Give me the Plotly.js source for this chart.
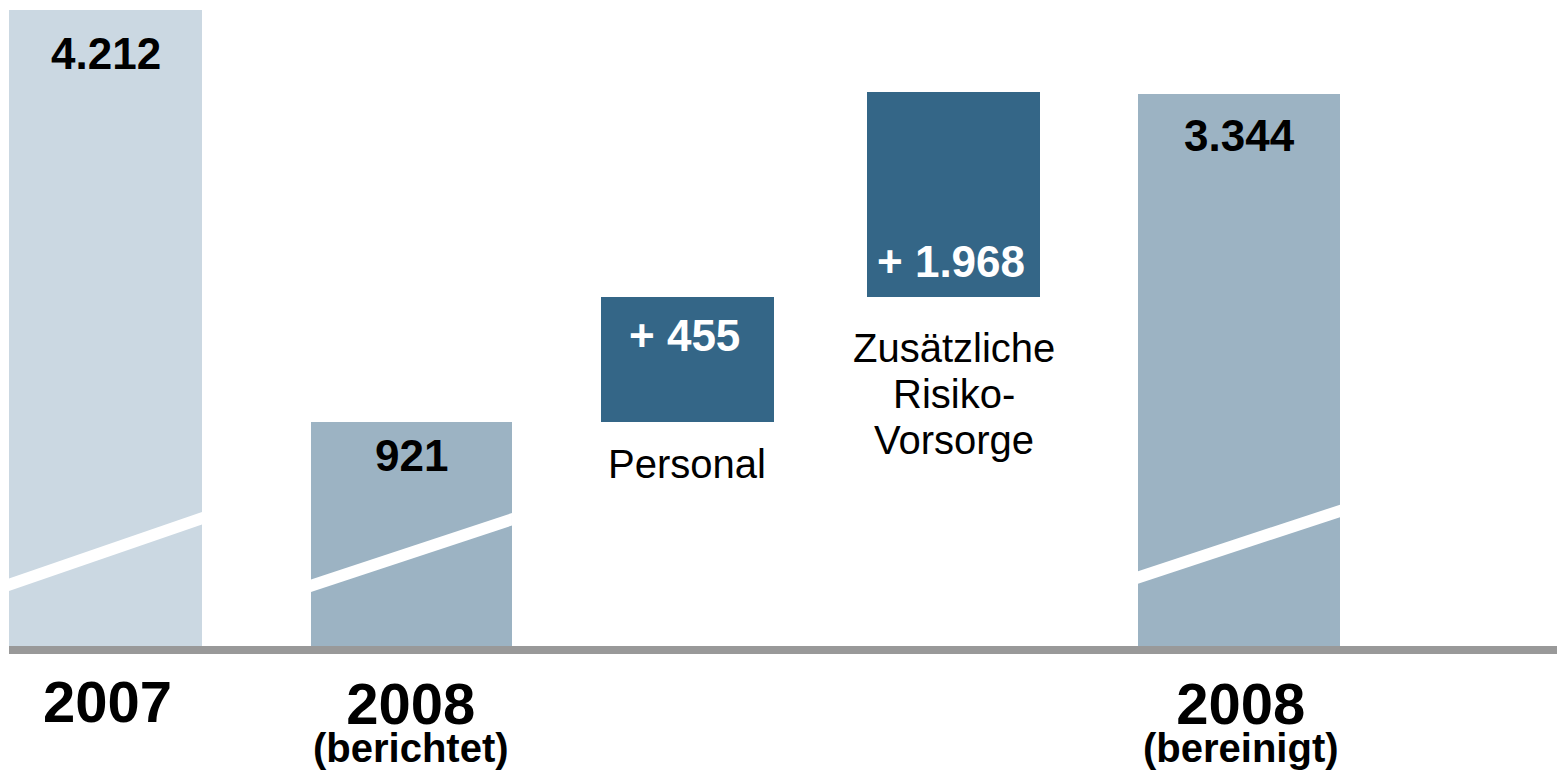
<!DOCTYPE html>
<html>
<head>
<meta charset="utf-8">
<script src="https://cdn.plot.ly/plotly-3.0.1.min.js"></script>
<style>
  html, body { margin: 0; padding: 0; background: #ffffff; }
  #chart { width: 1560px; height: 775px; }
</style>
</head>
<body>
<div id="chart"></div>
<script>
// ---------- DATA ----------
const categories = ["2007", "2008 (berichtet)", "Personal", "Zusätzliche Risiko-Vorsorge", "2008 (bereinigt)"];
const values = [4212, 921, 455, 1968, 3344];
const valueLabels = ["4.212", "921", "+ 455", "+ 1.968", "3.344"];
const measure = ["absolute", "absolute", "relative", "relative", "total"];
// drawn heights (broken axis, bars are not to scale)
const shownHeight = [640, 228, 125, 205, 556];
const yearLabels = ["2007", "2008", "", "", "2008"];
const noteLabels = ["", "(berichtet)", "", "", "(bereinigt)"];
const itemLabels = [[], [], ["Personal"], ["Zusätzliche", "Risiko-", "Vorsorge"], []];
const brokenBar = [true, true, false, false, true];

// ---------- STYLE ----------
const FONT = "Liberation Sans, Arial, Helvetica, sans-serif";
const style = {
  barColor: ["#CBD8E2", "#9CB3C3", "#346687", "#346687", "#9CB3C3"],
  labelColor: ["#000000", "#000000", "#ffffff", "#ffffff", "#000000"],
  barWidth: [0.6871, 0.7156, 0.6159, 0.6159, 0.7192],
  barOffset: [-0.3866, -0.3115, -0.2791, -0.3318, -0.3671],
  labelAnchor: ["top", "top", "top", "bottom", "top"],
  labelShift: [-43, -33, -38, 36, -41],
  labelDx: [0, 0, -3, -3, 0],
  yearDx: [2, 0, 0, 0, 2],
  breakBottom: [59, 58, 0, 0, 66.3],
  breakRise: 66.5,
  breakThick: 12.5,
  yearY: -51 / 640,
  yearTopY: -19.5 / 640,
  yearSize: 58,
  noteSize: 40,
  noteLineSize: 29,
  itemTopY: [0, 0, 186, 302, 0],
  itemLineGap: 46
};

// ---------- BUILD ----------
const bases = [];
let run = 0;
for (let i = 0; i < shownHeight.length; i++) {
  if (measure[i] === "relative") {
    bases.push(run);
    run += shownHeight[i];
  } else {
    bases.push(0);
    run = shownHeight[i];
  }
}

const trace = {
  type: "bar",
  x: categories,
  y: shownHeight,
  base: bases,
  width: style.barWidth,
  offset: style.barOffset,
  marker: { color: style.barColor, line: { width: 0 } },
  hoverinfo: "skip",
  customdata: values,
  showlegend: false
};

const centerX = categories.map((c, i) => i + style.barOffset[i] + style.barWidth[i] / 2);

const shapes = [];
categories.forEach((c, i) => {
  if (!brokenBar[i]) return;
  const x0 = i + style.barOffset[i];
  const x1 = x0 + style.barWidth[i];
  const yb = style.breakBottom[i];
  const r = style.breakRise, t = style.breakThick;
  shapes.push({
    type: "path", xref: "x", yref: "y", layer: "above",
    path: `M ${x0},${yb} L ${x1},${yb + r} L ${x1},${yb + r + t} L ${x0},${yb + t} Z`,
    fillcolor: "#ffffff", line: { width: 0 }
  });
});
shapes.push({
  type: "line", xref: "paper", yref: "paper", x0: 0, x1: 1, y0: 0, y1: 0,
  layer: "above", line: { color: "#999999", width: 8 }
});

const annotations = [];
categories.forEach((c, i) => {
  const top = bases[i] + shownHeight[i];
  const yRef = style.labelAnchor[i] === "top" ? top : bases[i];
  annotations.push({
    x: centerX[i], y: yRef + style.labelShift[i], xref: "x", yref: "y",
    xshift: style.labelDx[i],
    text: valueLabels[i], showarrow: false, xanchor: "center", yanchor: "middle",
    font: { family: FONT, size: 44, color: style.labelColor[i], weight: 700 }
  });
  if (yearLabels[i] && !noteLabels[i]) {
    annotations.push({
      x: centerX[i], y: style.yearY, xref: "x", yref: "paper", xshift: style.yearDx[i],
      text: "<b>" + yearLabels[i] + "</b>", showarrow: false, xanchor: "center", yanchor: "middle",
      borderpad: 0,
      font: { family: FONT, size: style.yearSize, color: "#000000" }
    });
  } else if (yearLabels[i] && noteLabels[i]) {
    annotations.push({
      x: centerX[i], y: style.yearTopY, xref: "x", yref: "paper", xshift: style.yearDx[i],
      text: `<span style="font-size:${style.yearSize}px"><b>${yearLabels[i]}</b></span><br>` +
            `<span style="font-size:${style.noteSize}px"><b>${noteLabels[i]}</b></span>`,
      showarrow: false, xanchor: "center", yanchor: "top", align: "center",
      borderpad: 0,
      font: { family: FONT, size: style.noteLineSize, color: "#000000" }
    });
  }
  itemLabels[i].forEach((line, k) => {
    annotations.push({
      x: centerX[i], y: style.itemTopY[i] - k * style.itemLineGap, xref: "x", yref: "y",
      text: line, showarrow: false, xanchor: "center", yanchor: "middle",
      font: { family: FONT, size: 40, color: "#000000" }
    });
  });
});

const layout = {
  width: 1560, height: 775,
  margin: { l: 9, r: 3, t: 10, b: 125, pad: 0 },
  paper_bgcolor: "#ffffff", plot_bgcolor: "#ffffff",
  xaxis: {
    type: "category", range: [-0.3866, 5.1246], showticklabels: false, ticks: "",
    showgrid: false, zeroline: false, showline: false, fixedrange: true
  },
  yaxis: {
    range: [0, 640], showticklabels: false, ticks: "", showgrid: false,
    zeroline: false, showline: false, fixedrange: true
  },
  bargap: 0,
  shapes: shapes,
  annotations: annotations,
  showlegend: false
};

Plotly.newPlot("chart", [trace], layout, { displayModeBar: false, staticPlot: true });
</script>
</body>
</html>
